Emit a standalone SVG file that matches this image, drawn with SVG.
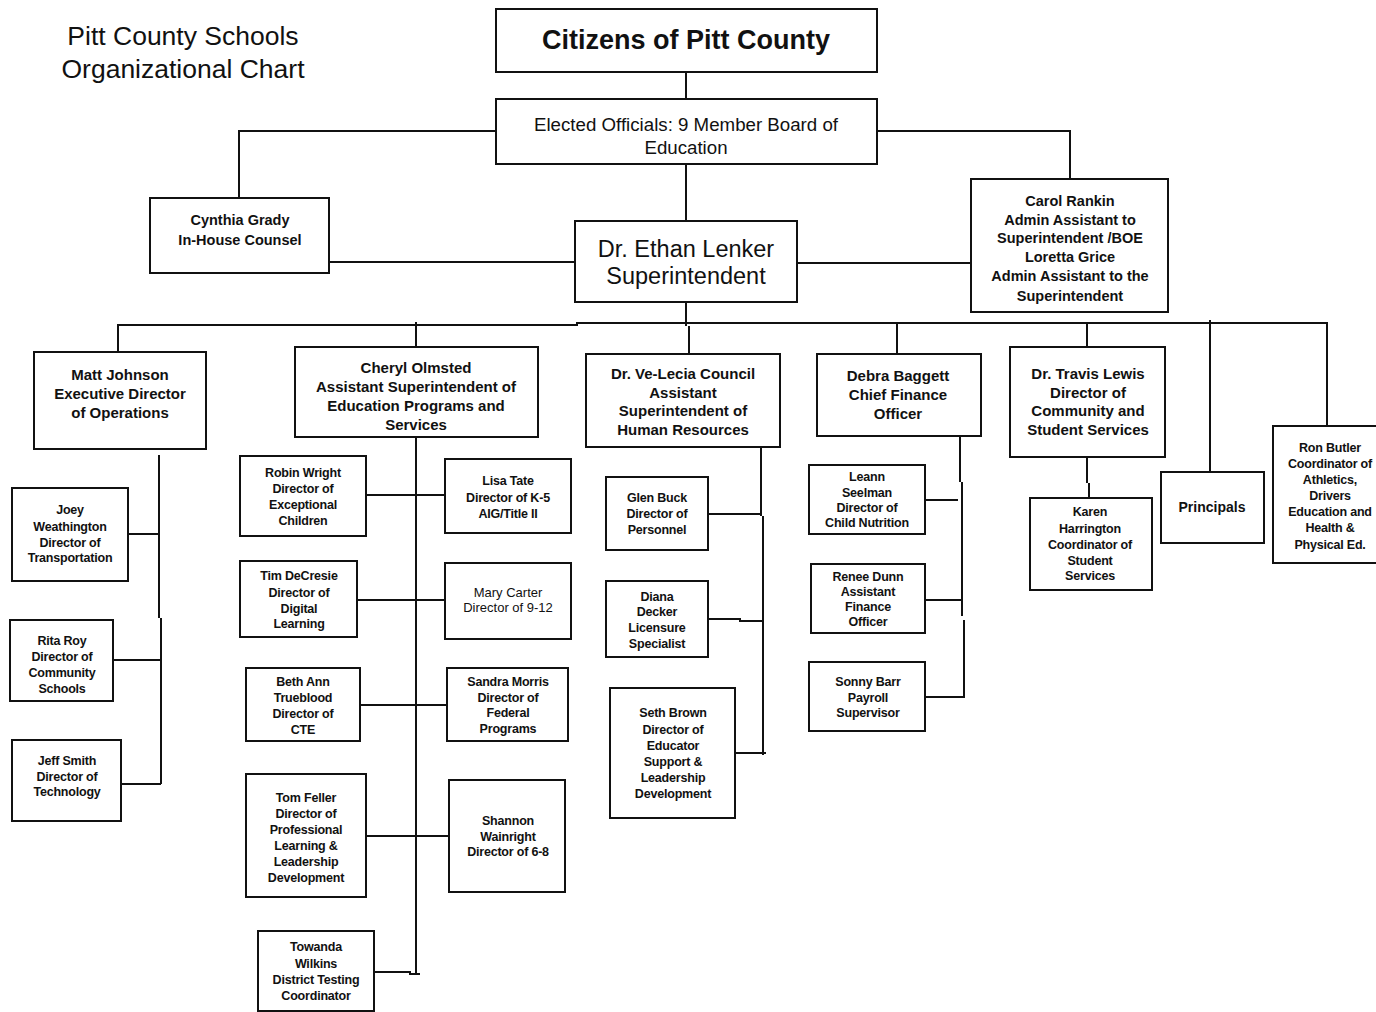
<svg xmlns="http://www.w3.org/2000/svg" width="1376" height="1012" viewBox="0 0 1376 1012">
<style>
.box{fill:#fff;stroke:#111;stroke-width:2}
.ln{fill:none;stroke:#111;stroke-width:2}
text{font-family:"Liberation Sans",Arial,sans-serif;fill:#111;text-anchor:middle}
.t{font-size:26.5px}
.cz{font-size:27px;font-weight:bold}
.bd{font-size:18.7px}
.sp{font-size:23.5px}
.m{font-size:14.5px;font-weight:bold}
.h{font-size:15px;font-weight:bold}
.s{font-size:12.5px;font-weight:bold;letter-spacing:-0.2px}
.r{font-size:13px}
</style>
<rect width="1376" height="1012" fill="#fff"/>
<g id="title">
<text class="t" x="183" y="45">Pitt County Schools</text>
<text class="t" x="183" y="78">Organizational Chart</text>
</g>
<g id="connectors">
<path class="ln" d="M686,72 V99"/>
<path class="ln" d="M496,131 H239 V198"/>
<path class="ln" d="M877,131 H1070 V179"/>
<path class="ln" d="M686,164 V221"/>
<path class="ln" d="M329,262 H575"/>
<path class="ln" d="M797,263 H971"/>
<path class="ln" d="M686,302 V326 M689,326 V354"/>
<path class="ln" d="M118,352 V325 H577 V323 H1327 V426"/>
<path class="ln" d="M416,322 V347"/>
<path class="ln" d="M897,323 V354"/>
<path class="ln" d="M1087,323 V347"/>
<path class="ln" d="M1210,320 V472"/>
<path class="ln" d="M159,455 V618 M161,618 V784 M128,534 H159 M113,660 H161 M118,784 H161"/>
<path class="ln" d="M416,437 V974 M366,495 H445 M357,600 H445 M360,705 H447 M366,836 H449 M374,972 H410 V974 H420"/>
<path class="ln" d="M761,447 V516 M763,516 V755 M708,514 H761 M708,619 H740 V621 H764 M735,753 H766"/>
<path class="ln" d="M960,436 V482 M962,482 V616 M964,620 V697 M925,500 H958 M923,600 H963 M925,697 H965"/>
<path class="ln" d="M1087,457 V483 M1089,483 V498"/>
</g>
<g id="citizens">
<rect class="box" x="496" y="9" width="381" height="63"/>
<text class="cz" x="686" y="49">Citizens of Pitt County</text>
</g>
<g id="board">
<rect class="box" x="496" y="99" width="381" height="65"/>
<text class="bd" x="686" y="131">Elected Officials: 9 Member Board of</text>
<text class="bd" x="686" y="154">Education</text>
</g>
<g id="cynthia">
<rect class="box" x="150" y="198" width="179" height="75"/>
<text class="m" x="240" y="225">Cynthia Grady</text>
<text class="m" x="240" y="245">In-House Counsel</text>
</g>
<g id="superintendent">
<rect class="box" x="575" y="221" width="222" height="81"/>
<text class="sp" x="686" y="257">Dr. Ethan Lenker</text>
<text class="sp" x="686" y="284">Superintendent</text>
</g>
<g id="carol">
<rect class="box" x="971" y="179" width="197" height="133"/>
<text class="m" x="1070" y="206">Carol Rankin</text>
<text class="m" x="1070" y="225">Admin Assistant to</text>
<text class="m" x="1070" y="243">Superintendent /BOE</text>
<text class="m" x="1070" y="262">Loretta Grice</text>
<text class="m" x="1070" y="281">Admin Assistant to the</text>
<text class="m" x="1070" y="301">Superintendent</text>
</g>
<g id="matt">
<rect class="box" x="34" y="352" width="172" height="97"/>
<text class="h" x="120" y="380">Matt Johnson</text>
<text class="h" x="120" y="399">Executive Director</text>
<text class="h" x="120" y="418">of Operations</text>
</g>
<g id="joey">
<rect class="box" x="12" y="488" width="116" height="93"/>
<text class="s" x="70" y="514">Joey</text>
<text class="s" x="70" y="531">Weathington</text>
<text class="s" x="70" y="547">Director of</text>
<text class="s" x="70" y="562">Transportation</text>
</g>
<g id="rita">
<rect class="box" x="10" y="620" width="103" height="81"/>
<text class="s" x="62" y="645">Rita Roy</text>
<text class="s" x="62" y="661">Director of</text>
<text class="s" x="62" y="677">Community</text>
<text class="s" x="62" y="693">Schools</text>
</g>
<g id="jeff">
<rect class="box" x="12" y="740" width="109" height="81"/>
<text class="s" x="67" y="765">Jeff Smith</text>
<text class="s" x="67" y="781">Director of</text>
<text class="s" x="67" y="796">Technology</text>
</g>
<g id="cheryl">
<rect class="box" x="295" y="347" width="243" height="90"/>
<text class="h" x="416" y="373">Cheryl Olmsted</text>
<text class="h" x="416" y="392">Assistant Superintendent of</text>
<text class="h" x="416" y="411">Education Programs and</text>
<text class="h" x="416" y="430">Services</text>
</g>
<g id="robin">
<rect class="box" x="240" y="456" width="126" height="80"/>
<text class="s" x="303" y="477">Robin Wright</text>
<text class="s" x="303" y="493">Director of</text>
<text class="s" x="303" y="509">Exceptional</text>
<text class="s" x="303" y="525">Children</text>
</g>
<g id="lisa">
<rect class="box" x="445" y="459" width="126" height="74"/>
<text class="s" x="508" y="485">Lisa Tate</text>
<text class="s" x="508" y="502">Director of K-5</text>
<text class="s" x="508" y="518">AIG/Title II</text>
</g>
<g id="tim">
<rect class="box" x="240" y="561" width="117" height="76"/>
<text class="s" x="299" y="580">Tim DeCresie</text>
<text class="s" x="299" y="597">Director of</text>
<text class="s" x="299" y="613">Digital</text>
<text class="s" x="299" y="628">Learning</text>
</g>
<g id="mary">
<rect class="box" x="445" y="563" width="126" height="76"/>
<text class="r" x="508" y="597">Mary Carter</text>
<text class="r" x="508" y="612">Director of 9-12</text>
</g>
<g id="beth">
<rect class="box" x="246" y="668" width="114" height="73"/>
<text class="s" x="303" y="686">Beth Ann</text>
<text class="s" x="303" y="702">Trueblood</text>
<text class="s" x="303" y="718">Director of</text>
<text class="s" x="303" y="734">CTE</text>
</g>
<g id="sandra">
<rect class="box" x="447" y="668" width="121" height="73"/>
<text class="s" x="508" y="686">Sandra Morris</text>
<text class="s" x="508" y="702">Director of</text>
<text class="s" x="508" y="717">Federal</text>
<text class="s" x="508" y="733">Programs</text>
</g>
<g id="tom">
<rect class="box" x="246" y="774" width="120" height="123"/>
<text class="s" x="306" y="802">Tom Feller</text>
<text class="s" x="306" y="818">Director of</text>
<text class="s" x="306" y="834">Professional</text>
<text class="s" x="306" y="850">Learning &amp;</text>
<text class="s" x="306" y="866">Leadership</text>
<text class="s" x="306" y="882">Development</text>
</g>
<g id="shannon">
<rect class="box" x="449" y="780" width="116" height="112"/>
<text class="s" x="508" y="825">Shannon</text>
<text class="s" x="508" y="841">Wainright</text>
<text class="s" x="508" y="856">Director of 6-8</text>
</g>
<g id="towanda">
<rect class="box" x="258" y="931" width="116" height="80"/>
<text class="s" x="316" y="951">Towanda</text>
<text class="s" x="316" y="968">Wilkins</text>
<text class="s" x="316" y="984">District Testing</text>
<text class="s" x="316" y="1000">Coordinator</text>
</g>
<g id="velecia">
<rect class="box" x="586" y="354" width="194" height="93"/>
<text class="h" x="683" y="379">Dr. Ve-Lecia Council</text>
<text class="h" x="683" y="398">Assistant</text>
<text class="h" x="683" y="416">Superintendent of</text>
<text class="h" x="683" y="435">Human Resources</text>
</g>
<g id="glen">
<rect class="box" x="606" y="477" width="102" height="73"/>
<text class="s" x="657" y="502">Glen Buck</text>
<text class="s" x="657" y="518">Director of</text>
<text class="s" x="657" y="534">Personnel</text>
</g>
<g id="diana">
<rect class="box" x="606" y="581" width="102" height="76"/>
<text class="s" x="657" y="601">Diana</text>
<text class="s" x="657" y="616">Decker</text>
<text class="s" x="657" y="632">Licensure</text>
<text class="s" x="657" y="648">Specialist</text>
</g>
<g id="seth">
<rect class="box" x="610" y="688" width="125" height="130"/>
<text class="s" x="673" y="717">Seth Brown</text>
<text class="s" x="673" y="734">Director of</text>
<text class="s" x="673" y="750">Educator</text>
<text class="s" x="673" y="766">Support &amp;</text>
<text class="s" x="673" y="782">Leadership</text>
<text class="s" x="673" y="798">Development</text>
</g>
<g id="debra">
<rect class="box" x="817" y="354" width="164" height="82"/>
<text class="h" x="898" y="381">Debra Baggett</text>
<text class="h" x="898" y="400">Chief Finance</text>
<text class="h" x="898" y="419">Officer</text>
</g>
<g id="leann">
<rect class="box" x="809" y="465" width="116" height="69"/>
<text class="s" x="867" y="481">Leann</text>
<text class="s" x="867" y="497">Seelman</text>
<text class="s" x="867" y="512">Director of</text>
<text class="s" x="867" y="527">Child Nutrition</text>
</g>
<g id="renee">
<rect class="box" x="811" y="564" width="114" height="69"/>
<text class="s" x="868" y="581">Renee Dunn</text>
<text class="s" x="868" y="596">Assistant</text>
<text class="s" x="868" y="611">Finance</text>
<text class="s" x="868" y="626">Officer</text>
</g>
<g id="sonny">
<rect class="box" x="809" y="662" width="116" height="69"/>
<text class="s" x="868" y="686">Sonny Barr</text>
<text class="s" x="868" y="702">Payroll</text>
<text class="s" x="868" y="717">Supervisor</text>
</g>
<g id="travis">
<rect class="box" x="1010" y="347" width="155" height="110"/>
<text class="h" x="1088" y="379">Dr. Travis Lewis</text>
<text class="h" x="1088" y="398">Director of</text>
<text class="h" x="1088" y="416">Community and</text>
<text class="h" x="1088" y="435">Student Services</text>
</g>
<g id="karen">
<rect class="box" x="1030" y="498" width="122" height="92"/>
<text class="s" x="1090" y="516">Karen</text>
<text class="s" x="1090" y="533">Harrington</text>
<text class="s" x="1090" y="549">Coordinator of</text>
<text class="s" x="1090" y="565">Student</text>
<text class="s" x="1090" y="580">Services</text>
</g>
<g id="principals">
<rect class="box" x="1161" y="472" width="103" height="71"/>
<text class="m" x="1212" y="512" style="font-size:14px">Principals</text>
</g>
<g id="ron">
<rect class="box" x="1273" y="426" width="110" height="137"/>
<text class="s" x="1330" y="452">Ron Butler</text>
<text class="s" x="1330" y="468">Coordinator of</text>
<text class="s" x="1330" y="484">Athletics,</text>
<text class="s" x="1330" y="500">Drivers</text>
<text class="s" x="1330" y="516">Education and</text>
<text class="s" x="1330" y="532">Health &amp;</text>
<text class="s" x="1330" y="549">Physical Ed.</text>
</g>
</svg>
